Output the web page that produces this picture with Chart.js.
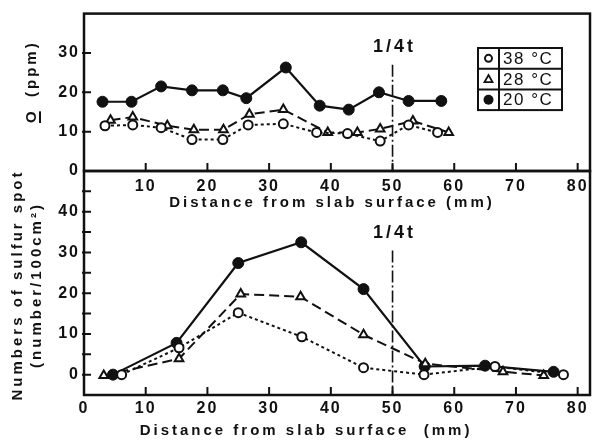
<!DOCTYPE html>
<html>
<head>
<meta charset="utf-8">
<script src="https://cdn.jsdelivr.net/npm/chart.js@4.4.1/dist/chart.umd.min.js"></script>
<style>
  html, body { margin: 0; padding: 0; background: #fff; }
  #wrap { position: relative; width: 597px; height: 441px; }
  canvas { position: absolute; left: 0; top: 0; }
</style>
</head>
<body>
<div id="wrap">
  <canvas id="graficoInferior" width="597" height="441"></canvas>
  <canvas id="graficoSuperior" width="597" height="215"></canvas>
</div>
<script>
// Dados
// Painel superior: oxigenio (ppm) x distancia (mm)
const distTop20 = [3.0, 7.7, 12.5, 17.5, 22.5, 26.3, 32.7, 38.2, 42.9, 47.8, 52.6, 57.9];
const oxig20 = [17.6, 17.6, 21.5, 20.5, 20.5, 18.5, 26.3, 16.6, 15.6, 20.0, 17.8, 17.8];
const distTop28 = [4.3, 7.9, 13.5, 17.8, 22.6, 26.8, 32.3, 39.5, 44.3, 48.0, 53.3, 59.1];
const oxig28 = [12.9, 13.7, 11.5, 10.5, 10.5, 14.4, 15.6, 9.8, 9.8, 10.7, 12.7, 9.8];
const distTop38 = [3.4, 7.9, 12.5, 17.5, 22.5, 26.6, 32.3, 37.7, 42.7, 48.0, 52.6, 57.3];
const oxig38 = [11.5, 11.7, 11.0, 8.0, 8.0, 11.7, 12.0, 9.8, 9.5, 7.6, 11.7, 9.8];

// Painel inferior: numero de manchas de enxofre
const distBot20 = [4.7, 15.0, 25.0, 35.2, 45.3, 55.2, 65.0, 76.1];
const manchas20 = [0, 7.8, 27.4, 32.5, 21.0, 2.0, 2.2, 0.7];
const distBot28 = [3.2, 15.4, 25.4, 35.1, 45.3, 55.3, 67.9, 74.5];
const manchas28 = [-0.2, 3.9, 19.8, 19.1, 9.8, 2.7, 0.7, -0.2];
const distBot38 = [6.1, 15.4, 25.0, 35.3, 45.3, 55.1, 66.6, 77.7];
const manchas38 = [0, 6.6, 15.2, 9.3, 1.7, 0, 2.0, 0];

// Linha 1/4t
const quartoX = [50, 50];
const quartoTopY = [27, 0];
const quartoBotY = [30.5, -5];

// Ticks
const ticksXTop = [10, 20, 30, 40, 50, 60, 70, 80];
const ticksXBot = [0, 10, 20, 30, 40, 50, 60, 70, 80];
const ticksYTop = [0, 10, 20, 30];
const ticksYBot = [-5, 0, 5, 10, 15, 20, 25, 30, 35, 40, 45];

// Textos
const legendas = ['38 °C', '28 °C', '20 °C'];
const tituloX = 'Distance from slab surface (mm)';
const tituloXBot = 'Distance from slab surface  (mm)';
const tituloYTopO = 'O';
const tituloYTopResto = '  (ppm)';
const tituloYBot = ['Numbers of sulfur spot', '(number/100cm²)'];
const rotuloQuarto = '1/4t';

const FONTE = "'Liberation Sans', Arial, Helvetica, sans-serif";
const PRETO = '#111';

function pontos(xs, ys) {
  return xs.map((x, i) => ({ x: x, y: ys[i] }));
}

function serie20(data) {
  return { data, borderColor: PRETO, borderWidth: 2.2, pointStyle: 'circle', pointRadius: 5.5,
    pointBackgroundColor: PRETO, pointBorderColor: PRETO, pointBorderWidth: 1 };
}
function serie28(data) {
  return { data, borderColor: PRETO, borderWidth: 2, borderDash: [10, 5], pointStyle: 'triangle',
    pointRadius: 5, pointBackgroundColor: '#fff', pointBorderColor: PRETO, pointBorderWidth: 2 };
}
function serie38(data) {
  return { data, borderColor: PRETO, borderWidth: 2, borderDash: [3, 3], pointStyle: 'circle',
    pointRadius: 4.5, pointBackgroundColor: '#fff', pointBorderColor: PRETO, pointBorderWidth: 2 };
}
function serieQuarto(data) {
  return { data, borderColor: PRETO, borderWidth: 1.6, borderDash: [12, 3, 2, 3], pointRadius: 0 };
}

function escalaX(valoresTicks, padding, altura) {
  return {
    type: 'linear', min: 0, max: 82,
    grid: { display: false, drawTicks: false }, border: { display: false },
    afterBuildTicks: s => { s.ticks = valoresTicks.map(v => ({ value: v })); },
    afterFit: s => { s.height = altura; },
    ticks: { padding, color: PRETO, maxRotation: 0, autoSkip: false,
      font: { family: FONTE, size: 16, weight: 'bold' } }
  };
}

function escalaY(min, max, valoresTicks) {
  return {
    min, max,
    grid: { display: false, drawTicks: false }, border: { display: false },
    afterBuildTicks: s => { s.ticks = valoresTicks.map(v => ({ value: v })); },
    afterFit: s => { s.width = 84; },
    ticks: { padding: 4, color: PRETO, autoSkip: false,
      callback: v => (v % 10 === 0 ? String(v) : ''),
      font: { family: FONTE, size: 16, weight: 'bold' } }
  };
}

function textoRotacionado(ctx, texto, x, y) {
  ctx.save();
  ctx.translate(x, y);
  ctx.rotate(-Math.PI / 2);
  ctx.fillText(texto, 0, 0);
  ctx.restore();
}

// Moldura, ticks internos e textos
function molduraPlugin(painel) {
  return {
    id: 'moldura' + painel,
    beforeLayout(chart) { chart.ctx.letterSpacing = '2px'; },
    beforeDraw(chart) { chart.ctx.letterSpacing = '2px'; },
    afterDraw(chart) {
      const ctx = chart.ctx;
      const a = chart.chartArea;
      const sx = chart.scales.x, sy = chart.scales.y;
      ctx.save();
      ctx.strokeStyle = PRETO;
      ctx.fillStyle = PRETO;
      ctx.lineWidth = 2.5;
      ctx.strokeRect(a.left, a.top, a.right - a.left, a.bottom - a.top);

      ctx.lineWidth = 2;
      ctx.beginPath();
      sx.ticks.forEach(t => {
        if (t.value <= 0) return;
        const px = sx.getPixelForValue(t.value);
        ctx.moveTo(px, a.bottom);
        ctx.lineTo(px, a.bottom - 8);
      });
      sy.ticks.forEach(t => {
        if (t.value <= sy.min || t.value >= sy.max) return;
        const py = sy.getPixelForValue(t.value);
        ctx.moveTo(a.left - 2, py);
        ctx.lineTo(a.left + 7, py);
      });
      ctx.stroke();

      ctx.letterSpacing = '3px';
      ctx.font = 'bold 15px ' + FONTE;
      ctx.textAlign = 'center';
      ctx.textBaseline = 'middle';
      const xq = sx.getPixelForValue(50);

      if (painel === 'top') {
        ctx.fillText(tituloX, 332, 203);
        // titulo Y com O sublinhado
        ctx.textAlign = 'left';
        ctx.textBaseline = 'alphabetic';
        ctx.save();
        ctx.translate(36, 123);
        ctx.rotate(-Math.PI / 2);
        ctx.fillText(tituloYTopO, 0, 0);
        const wO = ctx.measureText(tituloYTopO).width - 3;
        ctx.fillText(tituloYTopResto, wO, 0);
        ctx.fillRect(0, 3, wO, 2);
        ctx.restore();

        ctx.font = 'bold 18px ' + FONTE;
        ctx.textAlign = 'center';
        ctx.textBaseline = 'middle';
        ctx.fillText(rotuloQuarto, xq + 2, 47);

        // legenda em tabela
        const lx = 478, ly = 48, lw = 84, lh = 20.7, cx = 499;
        ctx.lineWidth = 2;
        ctx.strokeRect(lx, ly, lw, lh * 3);
        ctx.beginPath();
        ctx.moveTo(cx, ly); ctx.lineTo(cx, ly + lh * 3);
        ctx.moveTo(lx, ly + lh); ctx.lineTo(lx + lw, ly + lh);
        ctx.moveTo(lx, ly + 2 * lh); ctx.lineTo(lx + lw, ly + 2 * lh);
        ctx.stroke();
        ctx.font = '17px ' + FONTE;
        ctx.letterSpacing = '1.5px';
        ctx.textAlign = 'left';
        legendas.forEach((txt, i) => {
          const my = ly + lh * i + lh / 2;
          ctx.fillText(txt, 503, my + 1);
          const mx = (lx + cx) / 2;
          ctx.beginPath();
          if (i === 0) {
            ctx.lineWidth = 2;
            ctx.arc(mx, my, 3.5, 0, Math.PI * 2);
            ctx.stroke();
          } else if (i === 1) {
            ctx.lineWidth = 1.8;
            ctx.moveTo(mx, my - 4); ctx.lineTo(mx + 4, my + 3); ctx.lineTo(mx - 4, my + 3);
            ctx.closePath();
            ctx.stroke();
          } else {
            ctx.arc(mx, my, 5, 0, Math.PI * 2);
            ctx.fill();
          }
        });
      } else {
        ctx.fillText(tituloXBot, 306, 431);
        ctx.textAlign = 'center';
        textoRotacionado(ctx, tituloYBot[0], 18, 285);
        textoRotacionado(ctx, tituloYBot[1], 37, 285);
        ctx.font = 'bold 18px ' + FONTE;
        ctx.fillText(rotuloQuarto, xq + 2, 233);
      }
      ctx.restore();
    }
  };
}

function opcoes(padTop, escX, escY) {
  return {
    responsive: false, maintainAspectRatio: false, animation: false,
    layout: { padding: { top: padTop, right: 2, left: 0, bottom: 0 } },
    plugins: { legend: { display: false }, tooltip: { enabled: false } },
    scales: { x: escX, y: escY }
  };
}

Chart.defaults.font.family = FONTE;

new Chart(document.getElementById('graficoInferior'), {
  type: 'line',
  data: {
    datasets: [
      serieQuarto(pontos(quartoX, quartoBotY)),
      serie38(pontos(distBot38, manchas38)),
      serie28(pontos(distBot28, manchas28)),
      serie20(pontos(distBot20, manchas20))
    ]
  },
  options: opcoes(171, escalaX(ticksXBot, 4, 46), escalaY(-5, 50, ticksYBot)),
  plugins: [molduraPlugin('bot')]
});

new Chart(document.getElementById('graficoSuperior'), {
  type: 'line',
  data: {
    datasets: [
      serieQuarto(pontos(quartoX, quartoTopY)),
      serie38(pontos(distTop38, oxig38)),
      serie28(pontos(distTop28, oxig28)),
      serie20(pontos(distTop20, oxig20))
    ]
  },
  options: opcoes(7, escalaX(ticksXTop, 6, 44), escalaY(0, 40, ticksYTop)),
  plugins: [molduraPlugin('top')]
});
</script>
</body>
</html>
